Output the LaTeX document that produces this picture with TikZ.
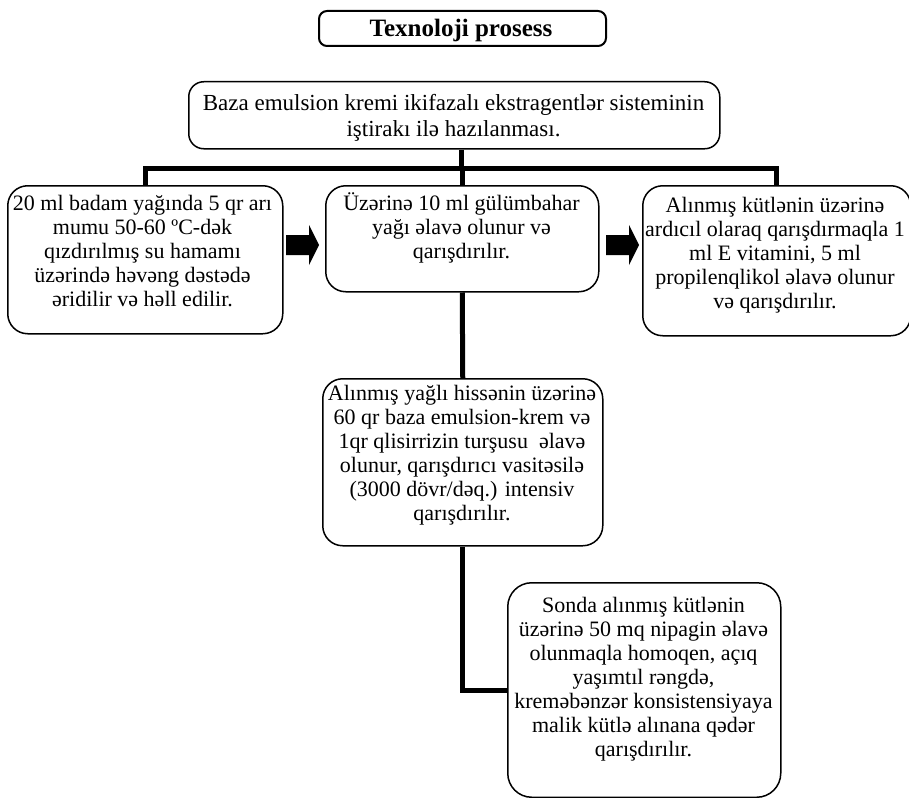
\documentclass[tikz,border=0pt]{standalone}
\usepackage{fontspec}
\setmainfont{Liberation Serif}
\usetikzlibrary{calc}
\newcommand{\firstln}{\rule{0pt}{20pt}}
\begin{document}
\begin{tikzpicture}[x=1pt,y=-1pt,
  box/.style={draw=black, line width=1.5pt, rounded corners=20pt, inner sep=0pt, anchor=north west},
  txt/.style={align=center, inner sep=0pt, anchor=north, font=\fontsize{22pt}{24pt}\selectfont},
  conn/.style={line width=5pt, line join=miter},
  blockarrow/.style={fill=black}]
\useasboundingbox (0,0) rectangle (909,797);

% title
\node[box, rounded corners=8pt, line width=2pt, minimum width=287pt, minimum height=35pt] (title) at (318,10) {};
\node[anchor=base, inner sep=0pt, font=\fontsize{25pt}{30pt}\selectfont\bfseries] (titletext) at (461,37) {Texnoloji prosess};

% top box
\node[box, rounded corners=15pt, minimum width=531pt, minimum height=67pt] (top) at (188,81) {};
\node[txt, font=\fontsize{23pt}{26pt}\selectfont] (toptext) at (453.5,90) {\firstln Baza emulsion kremi ikifazalı ekstragentlər sisteminin\\iştirakı ilə hazılanması.};

% three boxes
\node[box, minimum width=275pt, minimum height=148pt] (left) at (7,185) {};
\node[txt] (lefttext) at (142.5,190) {\firstln 20 ml badam yağında 5 qr arı\\mumu 50-60 ºC-dək\\qızdırılmış su hamamı\\üzərində həvəng dəstədə\\əridilir və həll edilir.};

\node[box, minimum width=273pt, minimum height=106pt] (mid) at (325,185) {};
\node[txt] (midtext) at (461.5,190) {\firstln Üzərinə 10 ml gülümbahar\\yağı əlavə olunur və\\qarışdırılır.};

\node[box, minimum width=268pt, minimum height=150pt] (right) at (642,185) {};
\node[txt] (righttext) at (775,192) {\firstln Alınmış kütlənin üzərinə\\ardıcıl olaraq qarışdırmaqla 1\\ml E vitamini, 5 ml\\propilenqlikol əlavə olunur\\və qarışdırılır.};

% box 4
\node[box, minimum width=280pt, minimum height=167pt] (b4) at (322,378) {};
\node[txt] (b4text) at (462,380) {\firstln Alınmış yağlı hissənin üzərinə\\60 qr baza emulsion-krem və\\1qr qlisirrizin turşusu\ \ əlavə\\olunur, qarışdırıcı vasitəsilə\\(3000 dövr/dəq.) intensiv\\qarışdırılır.};

% box 5
\node[box, rounded corners=24pt, minimum width=273pt, minimum height=214.5pt] (b5) at (507,582) {};
\node[txt] (b5text) at (643.5,592) {\firstln Sonda alınmış kütlənin\\üzərinə 50 mq nipagin əlavə\\olunmaqla homoqen, açıq\\yaşımtıl rəngdə,\\kreməbənzər konsistensiyaya\\malik kütlə alınana qədər\\qarışdırılır.};

% connectors
\coordinate (bar) at (461,168);
\draw[conn] (top.south -| bar) -- (bar);
\draw[conn] (left.north) -- (left.north |- bar) -- (right.north |- bar) -- (right.north);
\draw[conn] (mid.north |- bar) -- (mid.north);
\draw[conn] (mid.south) -- (b4.north);
\draw[conn] (b4.south) |- (b5.west);

% block arrows
\coordinate (a1) at (286,245);
\coordinate (a2) at (606,245);
\foreach \a in {a1,a2}{
  \fill[blockarrow] (\a) ++(0,-10) -- ++(23,0) -- ++(0,-10) -- ++(10,20) -- ++(-10,20) -- ++(0,-10) -- ++(-23,0) -- cycle;
}
\end{tikzpicture}
\end{document}
